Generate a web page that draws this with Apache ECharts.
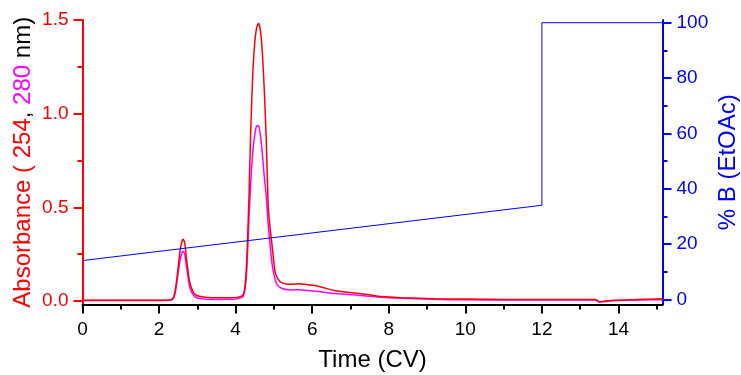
<!DOCTYPE html>
<html>
<head>
<meta charset="utf-8">
<script src="https://cdn.jsdelivr.net/npm/echarts@6/dist/echarts.min.js"></script>
<style>
html,body{margin:0;padding:0;background:#fff;}
#chart{width:741px;height:375px;}
</style>
</head>
<body>
<div id="chart"></div>
<script>
// Time (CV)
var times = [0, 1, 2, 2.3, 2.38, 2.44, 2.5, 2.55, 2.6, 2.63, 2.67, 2.72, 2.8, 2.9, 3.0, 3.2, 3.6, 4.0, 4.15, 4.2, 4.25, 4.3, 4.35, 4.4, 4.45, 4.5, 4.55, 4.6, 4.65, 4.7, 4.75, 4.8, 4.85, 4.9, 4.95, 5.03, 5.1, 5.2, 5.35, 5.5, 5.65, 5.8, 6.1, 6.6, 7.0, 7.4, 7.8, 8.3, 9.2, 10, 11, 12, 13, 13.4, 13.5, 13.6, 13.9, 14.5, 15.15];
// Absorbance 254 nm (red)
var abs254 = [0.004, 0.004, 0.004, 0.005, 0.02, 0.08, 0.18, 0.27, 0.32, 0.33, 0.31, 0.22, 0.1, 0.045, 0.028, 0.02, 0.017, 0.018, 0.026, 0.035, 0.085, 0.26, 0.57, 0.95, 1.22, 1.38, 1.46, 1.482, 1.44, 1.32, 1.12, 0.86, 0.51, 0.39, 0.3, 0.156, 0.12, 0.098, 0.09, 0.089, 0.092, 0.089, 0.081, 0.055, 0.045, 0.036, 0.024, 0.018, 0.012, 0.01, 0.008, 0.008, 0.008, 0.008, -0.004, -0.002, 0.004, 0.008, 0.012];
// Absorbance 280 nm (magenta)
var abs280 = [0.003, 0.003, 0.003, 0.004, 0.015, 0.065, 0.15, 0.22, 0.258, 0.265, 0.25, 0.18, 0.075, 0.03, 0.016, 0.01, 0.008, 0.01, 0.018, 0.026, 0.07, 0.2, 0.45, 0.65, 0.8, 0.89, 0.935, 0.935, 0.88, 0.78, 0.66, 0.56, 0.41, 0.3, 0.2, 0.115, 0.082, 0.068, 0.06, 0.059, 0.06, 0.058, 0.052, 0.04, 0.034, 0.027, 0.02, 0.015, 0.009, 0.006, 0.005, 0.005, 0.005, 0.005, -0.006, -0.004, 0.002, 0.005, 0.007];
// Gradient %B
var gradTimes = [0, 12, 12, 15.15];
var gradB = [14, 34, 100, 100];

var xMajor = [0, 2, 4, 6, 8, 10, 12, 14];
var xMinor = [1, 3, 5, 7, 9, 11, 13, 15];
var leftMajor = [0, 0.5, 1.0, 1.5];
var leftMinor = [0.25, 0.75, 1.25];
var rightMajor = [0, 20, 40, 60, 80, 100];
var rightMinor = [10, 30, 50, 70, 90];

function pairs(xs, ys) { return xs.map(function (x, i) { return [x, ys[i]]; }); }

var FONT = 'Liberation Sans, Arial, sans-serif';
var X_MIN = 0, X_MAX = 15.15;
var L_MIN = -0.0187, L_MAX = 1.5;
var R_MIN = -1.88, R_MAX = 100.98;

var chart = echarts.init(document.getElementById('chart'), null, {renderer: 'canvas'});

function minorAxis(base, vals, color, pos) {
  return Object.assign({
    type: 'value', position: pos,
    axisLine: {show: false, onZero: false},
    axisTick: {show: true, customValues: vals, length: 5, lineStyle: {color: color, width: 2}},
    axisLabel: {show: false},
    splitLine: {show: false}
  }, base);
}

var option = {
  animation: false,
  backgroundColor: '#fff',
  grid: {left: 82.5, right: 78.5, top: 20, bottom: 70.5, containLabel: false, outerBoundsMode: 'none'},
  xAxis: [
    {
      type: 'value', min: X_MIN, max: X_MAX, position: 'bottom',
      axisLine: {onZero: false, lineStyle: {color: '#000', width: 2}},
      axisTick: {customValues: xMajor, length: 9, lineStyle: {color: '#000', width: 2}},
      axisLabel: {customValues: xMajor, fontSize: 19, color: '#000', margin: 16, fontFamily: FONT},
      splitLine: {show: false},
      name: 'Time (CV)', nameLocation: 'middle', nameGap: 44, nameMoveOverlap: false,
      nameTextStyle: {fontSize: 24, color: '#000', fontFamily: FONT}
    },
    minorAxis({min: X_MIN, max: X_MAX}, xMinor, '#000', 'bottom')
  ],
  yAxis: [
    {
      type: 'value', min: L_MIN, max: L_MAX, position: 'left',
      axisLine: {show: true, onZero: false, lineStyle: {color: '#ff0000', width: 2}},
      axisTick: {show: true, customValues: leftMajor, length: 9, lineStyle: {color: '#ff0000', width: 2}},
      axisLabel: {customValues: leftMajor, fontSize: 19, color: '#ff0000', margin: 14, fontFamily: FONT,
        formatter: function (v) { return Number(v).toFixed(1); }},
      splitLine: {show: false},
      name: '{r|Absorbance ( 254}{k|, }{m|280}{k| nm)}', nameLocation: 'middle', nameGap: 47, nameRotate: 90,
      nameMoveOverlap: false,
      nameTextStyle: {fontSize: 24, fontFamily: FONT, rich: {
        r: {color: '#ff0000', fontSize: 24, fontFamily: FONT},
        k: {color: '#000000', fontSize: 24, fontFamily: FONT},
        m: {color: '#ff00ff', fontSize: 24, fontFamily: FONT}
      }}
    },
    minorAxis({min: L_MIN, max: L_MAX}, leftMinor, '#ff0000', 'left'),
    {
      type: 'value', min: R_MIN, max: R_MAX, position: 'right',
      axisLine: {show: true, onZero: false, lineStyle: {color: '#0000ff', width: 2}},
      axisTick: {show: true, customValues: rightMajor, length: 9, lineStyle: {color: '#0000ff', width: 2}},
      axisLabel: {customValues: rightMajor, fontSize: 19, color: '#0000ff', margin: 14, fontFamily: FONT},
      splitLine: {show: false},
      name: '% B (EtOAc)', nameLocation: 'middle', nameGap: 54, nameRotate: 90,
      nameMoveOverlap: false,
      nameTextStyle: {fontSize: 24, color: '#0000ff', fontFamily: FONT}
    },
    minorAxis({min: R_MIN, max: R_MAX}, rightMinor, '#0000ff', 'right')
  ],
  series: [
    {
      name: '280 nm', type: 'line', xAxisIndex: 0, yAxisIndex: 0,
      data: pairs(times, abs280), showSymbol: false, smooth: 0.2,
      lineStyle: {color: '#ff00ff', width: 1.5}
    },
    {
      name: '254 nm', type: 'line', xAxisIndex: 0, yAxisIndex: 0,
      data: pairs(times, abs254), showSymbol: false, smooth: 0.2,
      lineStyle: {color: '#ff0000', width: 1.5}
    },
    {
      name: '%B', type: 'line', xAxisIndex: 0, yAxisIndex: 2,
      data: pairs(gradTimes, gradB), showSymbol: false,
      lineStyle: {color: '#0000ff', width: 1}
    }
  ]
};
chart.setOption(option);
</script>
</body>
</html>
